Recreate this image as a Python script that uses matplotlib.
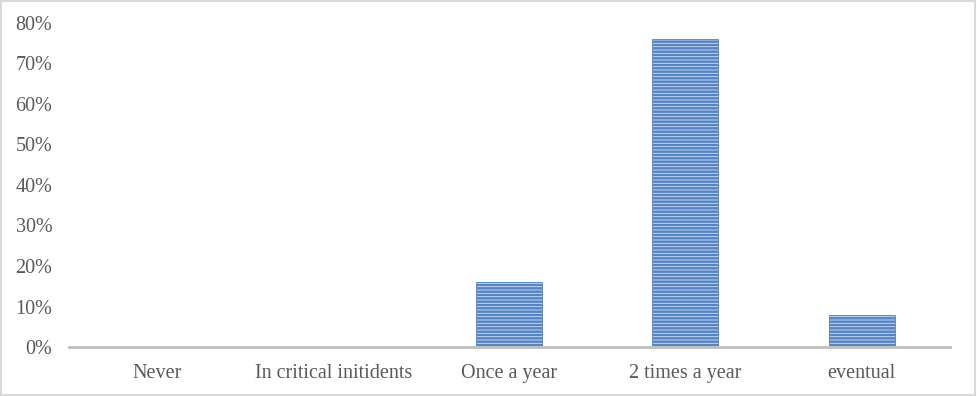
import numpy as np
import matplotlib.pyplot as plt
from matplotlib.ticker import PercentFormatter
from matplotlib.patches import Rectangle

categories = ["Never", "In critical initidents", "Once a year", "2 times a year", "eventual"]
values = [0.0, 0.0, 0.16, 0.76, 0.08]
yticks = [0, 0.1, 0.2, 0.3, 0.4, 0.5, 0.6, 0.7, 0.8]

plt.rcParams['font.family'] = ['Liberation Serif', 'DejaVu Serif']
plt.rcParams['hatch.linewidth'] = 1.8

fig = plt.figure(figsize=(9.77, 3.96), dpi=100)
ax = fig.add_axes([0.0706, 0.1237, 0.9014, 0.8183])

x = np.arange(len(categories))
ax.bar(x, values, width=0.375, color='#d3e0f1', edgecolor='#5585c4',
       linewidth=0.6, hatch='-----')

ax.set_xlim(-0.5, len(categories) - 0.5)
ax.set_ylim(0, 0.8)
ax.set_yticks(yticks)
ax.yaxis.set_major_formatter(PercentFormatter(1.0, decimals=0))
ax.set_xticks(x)
ax.set_xticklabels(categories)
ax.tick_params(axis='both', length=0, labelsize=14.5, colors='#595959')
ax.tick_params(axis='x', pad=12.5)
ax.tick_params(axis='y', pad=12)

for s in ['top', 'right', 'left']:
    ax.spines[s].set_visible(False)
ax.spines['bottom'].set_color('#bfbfbf')
ax.spines['bottom'].set_linewidth(2)

# outer chart border
fig.patches.append(Rectangle((0.001, 0.002), 0.997, 0.995, transform=fig.transFigure,
                             fill=False, edgecolor='#d9d9d9', linewidth=1.5))

plt.savefig('out.png')
